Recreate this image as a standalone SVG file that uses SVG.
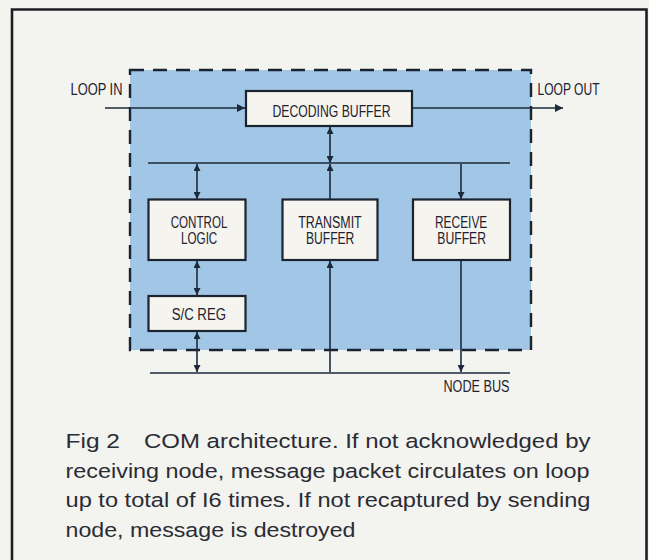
<svg xmlns="http://www.w3.org/2000/svg" width="649" height="560" viewBox="0 0 649 560">
<defs>
<style>
.lbl{font-family:"Liberation Sans",Arial,sans-serif;font-size:16px;fill:#1e2230;}
.cap{font-family:"Liberation Sans",Arial,sans-serif;font-size:20.5px;fill:#2a2c34;}
.box{fill:#f5f4ee;stroke:#1b2230;stroke-width:2.2;}
.ln{stroke:#1b2a3a;stroke-width:1.6;fill:none;}
</style>
<marker id="ah" viewBox="0 0 10 10" refX="10" refY="5" markerWidth="8" markerHeight="7" markerUnits="userSpaceOnUse" orient="auto-start-reverse">
<path d="M0,0 L10,5 L0,10 Z" fill="#1b2a3a"/>
</marker>
<marker id="ahw" viewBox="0 0 10 10" refX="10" refY="5" markerWidth="11" markerHeight="8" markerUnits="userSpaceOnUse" orient="auto-start-reverse">
<path d="M0,0 L10,5 L0,10 Z" fill="#1b2a3a"/>
</marker>
</defs>
<rect x="0" y="0" width="649" height="560" fill="#f3f3ef"/>
<path d="M12,560 V9.5 H646.5 V560" fill="none" stroke="#1e1e22" stroke-width="2.6"/>
<g id="com-boundary">
<rect x="130" y="70" width="401" height="280" fill="#a2c6e6" stroke="#1b2230" stroke-width="2.4" stroke-dasharray="14 9"/>
</g>
<g id="connectors">
<line class="ln" x1="148" y1="163" x2="510" y2="163"/>
<line class="ln" x1="150" y1="373" x2="510" y2="373"/>
<line class="ln" x1="105" y1="108" x2="245" y2="108" marker-end="url(#ahw)"/>
<line class="ln" x1="412" y1="108" x2="563" y2="108" marker-end="url(#ahw)"/>
<line class="ln" x1="330" y1="127" x2="330" y2="163" marker-start="url(#ah)" marker-end="url(#ah)"/>
<line class="ln" x1="330" y1="199" x2="330" y2="164" marker-end="url(#ah)"/>
<line class="ln" x1="197" y1="164" x2="197" y2="199" marker-start="url(#ah)" marker-end="url(#ah)"/>
<line class="ln" x1="197" y1="261" x2="197" y2="295" marker-start="url(#ah)" marker-end="url(#ah)"/>
<line class="ln" x1="197" y1="332" x2="197" y2="372" marker-start="url(#ah)" marker-end="url(#ah)"/>
<line class="ln" x1="330" y1="372" x2="330" y2="261" marker-end="url(#ah)"/>
<line class="ln" x1="461" y1="164" x2="461" y2="199" marker-end="url(#ah)"/>
<line class="ln" x1="461" y1="261" x2="461" y2="372" marker-end="url(#ah)"/>
</g>
<g id="loop-in"><text class="lbl" x="70.5" y="95" textLength="52" lengthAdjust="spacingAndGlyphs">LOOP IN</text></g>
<g id="loop-out"><text class="lbl" x="537.5" y="95" textLength="62" lengthAdjust="spacingAndGlyphs">LOOP OUT</text></g>
<g id="decoding-buffer">
<rect class="box" x="246" y="91" width="166" height="35"/>
<text class="lbl" x="272.5" y="116.5" textLength="118" lengthAdjust="spacingAndGlyphs">DECODING BUFFER</text>
</g>
<g id="control-logic">
<rect class="box" x="148.5" y="199.5" width="97" height="60.5"/>
<text class="lbl" x="170.7" y="228.3" textLength="56.7" lengthAdjust="spacingAndGlyphs">CONTROL</text>
<text class="lbl" x="181" y="244.3" textLength="36.3" lengthAdjust="spacingAndGlyphs">LOGIC</text>
</g>
<g id="transmit-buffer">
<rect class="box" x="282.5" y="199.5" width="95" height="60.5"/>
<text class="lbl" x="298.3" y="228.3" textLength="63.4" lengthAdjust="spacingAndGlyphs">TRANSMIT</text>
<text class="lbl" x="306" y="244.3" textLength="48.3" lengthAdjust="spacingAndGlyphs">BUFFER</text>
</g>
<g id="receive-buffer">
<rect class="box" x="413" y="199.5" width="97" height="60.5"/>
<text class="lbl" x="435" y="228.3" textLength="52.3" lengthAdjust="spacingAndGlyphs">RECEIVE</text>
<text class="lbl" x="437.3" y="244.3" textLength="48.7" lengthAdjust="spacingAndGlyphs">BUFFER</text>
</g>
<g id="sc-reg">
<rect class="box" x="148.5" y="296" width="97" height="35"/>
<text class="lbl" x="171.7" y="320" textLength="54.3" lengthAdjust="spacingAndGlyphs">S/C REG</text>
</g>
<g id="node-bus"><text class="lbl" x="443.5" y="391.7" textLength="66" lengthAdjust="spacingAndGlyphs">NODE BUS</text></g>
<g id="caption">
<text class="cap" x="65.5" y="447.5" textLength="54.5" lengthAdjust="spacingAndGlyphs">Fig 2</text>
<text class="cap" x="144" y="447.5" textLength="446.5" lengthAdjust="spacingAndGlyphs">COM architecture. If not acknowledged by</text>
<text class="cap" x="65.5" y="477.5" textLength="524" lengthAdjust="spacingAndGlyphs">receiving node, message packet circulates on loop</text>
<text class="cap" x="65.5" y="507" textLength="525" lengthAdjust="spacingAndGlyphs">up to total of I6 times. If not recaptured by sending</text>
<text class="cap" x="65.5" y="536.5" textLength="290" lengthAdjust="spacingAndGlyphs">node, message is destroyed</text>
</g>
</svg>
